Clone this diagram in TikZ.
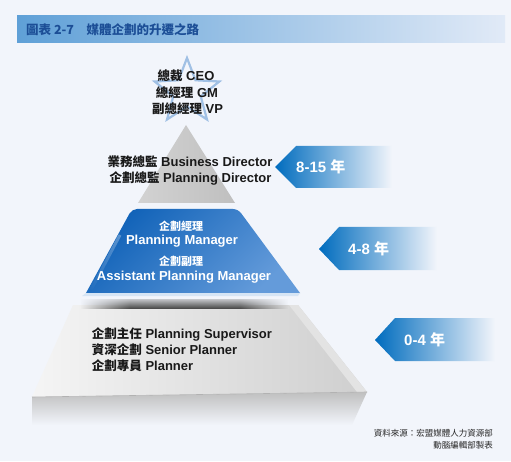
\documentclass[tikz,border=0pt]{standalone}
\usepackage{fontspec}
\setmainfont{Liberation Sans}
\newfontfamily\cjk{Noto Sans CJK TC}
\usetikzlibrary{fadings}
\definecolor{bg}{RGB}{242,245,251}
\definecolor{tagblue}{RGB}{0,108,190}
\definecolor{tagmid}{RGB}{100,152,212}
\definecolor{titleblue}{RGB}{28,78,150}
\definecolor{titleL}{RGB}{95,160,215}
\definecolor{titleR}{RGB}{225,234,247}
\definecolor{starblue}{RGB}{160,192,228}
\definecolor{bluedark}{RGB}{16,98,184}
\definecolor{bluelight}{RGB}{100,155,218}
\definecolor{bluerim}{RGB}{214,229,245}
\tikzfading[name=fadedown, top color=transparent!0, bottom color=transparent!100]
\tikzfading[name=fadeleft, left color=transparent!100, right color=transparent!0]
\tikzfading[name=faderight, left color=transparent!0, right color=transparent!100]
\newcommand\zhb[2][12.5]{{\cjk\bfseries\fontsize{#1}{#1}\selectfont #2}}
\newcommand\zhr[2][8.5]{{\cjk\fontsize{#1}{#1}\selectfont #2}}
\begin{document}
\begin{tikzpicture}[x=1pt,y=1pt,
  dark/.style={inner sep=0pt, text=black!90, font=\fontsize{13}{15}\selectfont\bfseries},
  light/.style={inner sep=0pt, text=white, font=\fontsize{13}{15}\selectfont\bfseries},
  tagbox/.style={left color=tagblue, middle color=tagmid, right color=bg},
  tagtext/.style={inner sep=0pt, text=white, anchor=west, font=\fontsize{15}{17}\selectfont\bfseries},
  srctext/.style={inner sep=0pt, text=black!85, anchor=east},
  shadowband/.style={top color=bg!60!gray, bottom color=black!70},
]
\useasboundingbox (0,0) rectangle (511,461);
\fill[bg] (0,0) rectangle (511,461);

% title bar
\shade[left color=titleL, right color=titleR] (17,418) rectangle (505,445);
\node[inner sep=0pt, anchor=west, text=titleblue] (title) at (26,431.5) {\zhb[12.5]{圖表 2-7　媒體企劃的升遷之路}};

% star
\begin{scope}[shift={(187,369)}]
\draw[starblue, line width=2.2pt, line join=miter] (90:34) -- (126:14.5) -- (162:34) -- (198:14.5) -- (234:34) -- (270:14.5) -- (306:34) -- (342:14.5) -- (18:34) -- (54:14.5) -- cycle;
\end{scope}

% top triangle
\shade[left color=gray!35, middle color=gray!8, right color=gray!50] (186,336) -- (235,258) -- (138,258) -- cycle;

% blue trapezoid
\shade[top color=bluedark, bottom color=bluelight, shading angle=45] (86,168) [rounded corners=5pt] -- (132,252) -- (238,252) [sharp corners] -- (300,168) -- cycle;
\draw[white, opacity=0.3, line width=3pt, path fading=fadedown] (91,171) -- (120,226);
\fill[bluerim] (86,168) -- (300,168) -- (298,165) -- (82,165) -- cycle;

% bottom slab
\shade[top color=gray!50, bottom color=bg] (32,64) -- (367,69) -- (352,36) -- (32,36) -- cycle;
\path[left color=gray!8, right color=gray!38] (73,156) -- (298,156) -- (367,69) -- (32,64) -- cycle;
\fill[gray!22] (298,156) -- (367,69) -- (357,69) -- (289,156) -- cycle;
\draw[gray!60, line width=0.6pt] (32,64) -- (367,69);
% shadow band at the slab's top edge
\shade[shadowband, path fading=fadeleft] (80,153) rectangle (130,162);
\shade[shadowband] (130,153) rectangle (240,162);
\shade[shadowband, path fading=faderight] (240,153) rectangle (288,162);

% texts
\node[dark] (ceo) at (186,385) {\zhb{總裁} CEO};
\node[dark] (gm) at (187,368.3) {\zhb{總經理} GM};
\node[dark] (vp) at (187.5,352) {\zhb{副總經理} VP};
\node[dark] (bd) at (190,299.3) {\zhb{業務總監} Business Director};
\node[dark] (pd) at (190.5,282.7) {\zhb{企劃總監} Planning Director};
\node[light] (pm1) at (181,234.3) {\zhb[11]{企劃經理}};
\node[light] (pm2) at (182,220.3) {Planning Manager};
\node[light] (apm1) at (181,199.3) {\zhb[11]{企劃副理}};
\node[light] (apm2) at (184,183.7) {Assistant Planning Manager};
\node[dark, anchor=west] (sup) at (91.7,126.7) {\zhb{企劃主任} Planning Supervisor};
\node[dark, anchor=west] (sen) at (91.7,111) {\zhb{資深企劃} Senior Planner};
\node[dark, anchor=west] (pl) at (91.7,95.3) {\zhb{企劃專員} Planner};

% tags
\path[tagbox] (275,294) -- (296,315) -- (392,315) -- (392,273) -- (296,273) -- cycle;
\node[tagtext] (t1) at (296,294) {8-15 \zhb[15]{年}};
\path[tagbox] (319,212) -- (339,234) -- (437,234) -- (437,191) -- (339,191) -- cycle;
\node[tagtext] (t2) at (348,212) {4-8 \zhb[15]{年}};
\path[tagbox] (375,121) -- (395,143) -- (495,143) -- (495,100) -- (395,100) -- cycle;
\node[tagtext] (t3) at (404,121) {0-4 \zhb[15]{年}};

% source
\node[srctext] (src1) at (493,28) {\zhr{資料來源：宏盟媒體人力資源部}};
\node[srctext] (src2) at (493,16) {\zhr{動腦編輯部製表}};
\end{tikzpicture}
\end{document}
